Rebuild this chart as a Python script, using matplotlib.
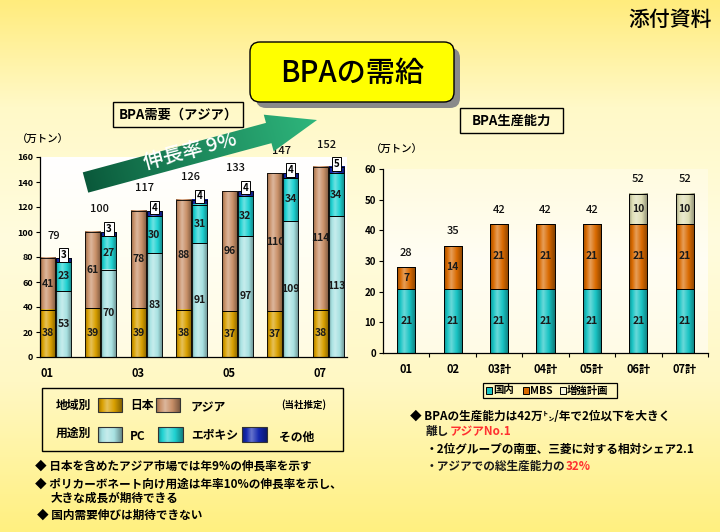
import numpy as np
import matplotlib
matplotlib.use('Agg')
import matplotlib.pyplot as plt
from matplotlib.patches import Rectangle, FancyBboxPatch, Polygon
from matplotlib.colors import LinearSegmentedColormap, to_rgb

plt.rcParams['font.family'] = ['Noto Sans CJK JP', 'DejaVu Sans']

# ---------------- data ----------------
demand_years = ['01', '02', '03', '04', '05', '06', '07']
demand_tick_labels = ['01', '', '03', '', '05', '', '07']
japan = [38, 39, 39, 38, 37, 37, 38]
asia = [41, 61, 78, 88, 96, 110, 114]
pc = [53, 70, 83, 91, 97, 109, 113]
epoxy = [23, 27, 30, 31, 32, 34, 34]
other = [3, 3, 4, 4, 4, 4, 5]

capacity_labels = ['01', '02', '03計', '04計', '05計', '06計', '07計']
domestic = [21, 21, 21, 21, 21, 21, 21]
mbs = [7, 14, 21, 21, 21, 21, 21]
expansion = [0, 0, 0, 0, 0, 10, 10]

# ---------------- colours ----------------
C_JAPAN = '#D9A000'
C_ASIA = '#C99068'
C_PC = '#A8E2E2'
C_EPOXY = '#1FD2D2'
C_OTHER = '#1428B0'
C_DOM = '#19C4C4'
C_MBS = '#D96A00'
C_EXP = '#DEDEB4'

W, H = 720, 532
fig = plt.figure(figsize=(7.2, 5.32), dpi=100)


def axrect(x0, y0, x1, y1):
    return [x0 / W, 1 - y1 / H, (x1 - x0) / W, (y1 - y0) / H]


# ---------------- background ----------------
bg = fig.add_axes([0, 0, 1, 1], zorder=0)
bg.set_xlim(0, W)
bg.set_ylim(H, 0)
bg.axis('off')
stops = [(0.0, (255, 236, 125)), (0.2, (255, 249, 200)), (0.45, (255, 252, 222)),
         (0.72, (255, 248, 196)), (1.0, (255, 240, 128))]
cmap_bg = LinearSegmentedColormap.from_list('bg', [(p, np.array(c) / 255) for p, c in stops])
bg.imshow(np.linspace(0, 1, 256).reshape(-1, 1), cmap=cmap_bg, aspect='auto',
          extent=[0, W, H, 0], origin='upper', interpolation='bilinear')
# plot-area fills
pa1 = LinearSegmentedColormap.from_list('pa1', ['#FFFFFF', '#FFFEF2', '#FFFBE2'])
bg.imshow(np.linspace(0, 1, 64).reshape(-1, 1), cmap=pa1, aspect='auto',
          extent=[40, 347, 357, 157], origin='upper', interpolation='bilinear')
pa2 = LinearSegmentedColormap.from_list('pa2', ['#FFFBE0', '#FFFEF4', '#FFFBE6'])
bg.imshow(np.linspace(0, 1, 64).reshape(-1, 1), cmap=pa2, aspect='auto',
          extent=[383, 708, 353, 169], origin='upper', interpolation='bilinear')
bg.set_xlim(0, W)
bg.set_ylim(H, 0)


def shade_profile(color, n=48):
    c = np.array(to_rgb(color))
    t = np.linspace(0, 1, n)
    s = np.interp(t, [0, 0.38, 1], [-0.28, 0.35, -0.38])
    out = np.empty((1, n, 3))
    for i, si in enumerate(s):
        out[0, i] = c * (1 + si) if si < 0 else c + (1 - c) * si
    return out


def shade(ax, bars, color):
    img = shade_profile(color)
    for r in bars:
        x0, y0, w, h = r.get_x(), r.get_y(), r.get_width(), r.get_height()
        if h <= 0:
            continue
        ax.imshow(img, extent=[x0, x0 + w, y0, y0 + h], aspect='auto',
                  zorder=1.5, interpolation='bilinear', origin='upper')


# ---------------- left chart: demand ----------------
ax1 = fig.add_axes(axrect(40, 157, 347, 357), zorder=1)
ax1.set_facecolor('none')
x = np.arange(len(demand_years))
bw = 0.33
xr = x
xa = x + 0.35
jp = np.array(japan); asv = np.array(asia)
pcv = np.array(pc); epv = np.array(epoxy); otv = np.array(other)
kw = dict(width=bw, align='edge', color='none', edgecolor='black', linewidth=0.6, zorder=2)
b1 = ax1.bar(xr, jp, **kw)
b2 = ax1.bar(xr, asv, bottom=jp, **kw)
b3 = ax1.bar(xa, pcv, **kw)
b4 = ax1.bar(xa, epv, bottom=pcv, **kw)
b5 = ax1.bar(xa, otv, bottom=pcv + epv, **kw)
shade(ax1, b1, C_JAPAN)
shade(ax1, b2, C_ASIA)
shade(ax1, b3, C_PC)
shade(ax1, b4, C_EPOXY)
shade(ax1, b5, C_OTHER)

lab = dict(ha='center', va='center', fontsize=7.5, fontweight='bold', color='#1a1a1a', zorder=4)
tot_kw = dict(ha='center', va='center', fontsize=8, fontweight='medium', color='#111111',
              zorder=4, clip_on=False)
for i in range(len(x)):
    ax1.text(xr[i] + bw / 2, jp[i] / 2, str(jp[i]), **lab)
    ax1.text(xr[i] + bw / 2, jp[i] + asv[i] / 2, str(asv[i]), **lab)
    ax1.text(xa[i] + bw / 2, pcv[i] / 2, str(pcv[i]), **lab)
    ax1.text(xa[i] + bw / 2, pcv[i] + epv[i] / 2, str(epv[i]), **lab)
    tot_app = pcv[i] + epv[i] + otv[i]
    ax1.text(xa[i] + bw / 2, tot_app + 2.5, str(otv[i]), ha='center', va='center',
             fontsize=7, fontweight='bold', zorder=5,
             bbox=dict(boxstyle='square,pad=0.18', fc='white', ec='black', lw=0.7))
    ax1.text(x[i] + 0.3, jp[i] + asv[i] + 18, str(jp[i] + asv[i]), **tot_kw)

ax1.set_xlim(0, 6.75)
ax1.set_ylim(0, 160)
ax1.set_yticks(range(0, 161, 20))
ax1.set_xticks(xr + bw / 2, demand_tick_labels)
ax1.tick_params(axis='x', length=0, pad=7, labelsize=8)
ax1.tick_params(axis='y', length=3, direction='out', pad=2, labelsize=6.5, width=0.8)
for lbl in ax1.get_xticklabels() + ax1.get_yticklabels():
    lbl.set_fontweight('bold')
for s in ['top', 'right']:
    ax1.spines[s].set_visible(False)
for s in ['left', 'bottom']:
    ax1.spines[s].set_linewidth(0.9)

# ---------------- right chart: capacity ----------------
ax2 = fig.add_axes(axrect(383, 169, 708, 353), zorder=1)
ax2.set_facecolor('none')
x2 = np.arange(len(capacity_labels)) + 0.5
bw2 = 0.39
dv = np.array(domestic); mv = np.array(mbs); ev = np.array(expansion)
kw2 = dict(width=bw2, color='none', edgecolor='black', linewidth=0.7, zorder=2)
c1 = ax2.bar(x2, dv, **kw2)
c2 = ax2.bar(x2, mv, bottom=dv, **kw2)
c3 = ax2.bar(x2, ev, bottom=dv + mv, **kw2)
shade(ax2, c1, C_DOM)
shade(ax2, c2, C_MBS)
shade(ax2, c3, C_EXP)
for i in range(len(x2)):
    ax2.text(x2[i], dv[i] / 2, str(dv[i]), **lab)
    ax2.text(x2[i], dv[i] + mv[i] / 2, str(mv[i]), **lab)
    if ev[i] > 0:
        ax2.text(x2[i], dv[i] + mv[i] + ev[i] / 2, str(ev[i]), **lab)
    tot = dv[i] + mv[i] + ev[i]
    ax2.text(x2[i], tot + 4.7, str(tot), **tot_kw)
ax2.set_xlim(0, 7)
ax2.set_ylim(0, 60)
ax2.set_yticks(range(0, 61, 10))
ax2.set_xticks(x2, capacity_labels)
ax2.set_xticks(np.arange(1, 8), minor=True)
ax2.tick_params(axis='x', which='major', length=0, pad=7, labelsize=8)
ax2.tick_params(axis='x', which='minor', length=3, direction='out', width=0.8)
ax2.tick_params(axis='y', length=3, direction='out', pad=2, labelsize=7, width=0.8)
for lbl in ax2.get_xticklabels() + ax2.get_yticklabels():
    lbl.set_fontweight('bold')
for s in ['top', 'right']:
    ax2.spines[s].set_visible(False)
for s in ['left', 'bottom']:
    ax2.spines[s].set_linewidth(0.9)

# ---------------- overlay: titles, arrow, legends, notes ----------------
ov = fig.add_axes([0, 0, 1, 1], zorder=5)
ov.set_facecolor('none')
ov.set_xlim(0, W)
ov.set_ylim(H, 0)
ov.axis('off')

# growth arrow
tail = np.array([85.5, 182.5])
tip = np.array([317.0, 120.0])
L = np.linalg.norm(tip - tail)
u = (tip - tail) / L
nrm = np.array([-u[1], u[0]])
hw, HW, HL = 10.5, 19.0, 50.0
base = tip - HL * u
pts = [tail - hw * nrm, base - hw * nrm, base - HW * nrm, tip,
       base + HW * nrm, base + hw * nrm, tail + hw * nrm]
arrow = Polygon(pts, closed=True, fc='none', ec='none')
ov.add_patch(arrow)
gx0, gx1, gy0, gy1 = 78, 322, 108, 198
GX, GY = np.meshgrid(np.linspace(gx0, gx1, 244), np.linspace(gy0, gy1, 90))
tproj = np.clip(((GX - tail[0]) * u[0] + (GY - tail[1]) * u[1]) / L, 0, 1)
c_dark = np.array([10, 88, 58]) / 255
c_light = np.array([46, 182, 124]) / 255
tt = tproj[..., None] ** 0.9
img = c_dark * (1 - tt) + c_light * tt
im = ov.imshow(img, extent=[gx0, gx1, gy1, gy0], origin='upper', aspect='auto',
               interpolation='bilinear', zorder=3)
im.set_clip_path(arrow)
ov.text(190, 152, '伸長率 9%', rotation=14.8, rotation_mode='anchor', ha='center',
        va='center', fontsize=14.5, color='white', fontweight='medium', zorder=4)

# main title box
ov.add_patch(FancyBboxPatch((256, 48), 204, 60, boxstyle='round,pad=0,rounding_size=10',
                            fc='#8a8a8a', ec='none', zorder=2))
ov.add_patch(FancyBboxPatch((250, 42), 204, 60, boxstyle='round,pad=0,rounding_size=10',
                            fc='#FFFF00', ec='black', lw=1.0, zorder=3))
ov.text(352, 73, 'BPAの需給', ha='center', va='center', fontsize=21,
        fontweight='medium', zorder=4)

ov.text(712, 20, '添付資料', ha='right', va='center', fontsize=15, fontweight='medium')

# chart titles
ov.add_patch(Rectangle((113, 102), 130, 25, fc='none', ec='black', lw=1.0))
ov.text(178, 114.5, 'BPA需要（アジア）', ha='center', va='center', fontsize=9.5,
        fontweight='bold')
ov.add_patch(Rectangle((460, 108), 103, 25, fc='none', ec='black', lw=1.0))
ov.text(511.5, 120.5, 'BPA生産能力', ha='center', va='center', fontsize=9.5,
        fontweight='bold')

ov.text(43, 140, '（万トン）', ha='center', va='center', fontsize=7.5, fontweight='medium')
ov.text(397, 150, '（万トン）', ha='center', va='center', fontsize=7.5, fontweight='medium')

# left legend
ov.add_patch(Rectangle((42, 388), 301, 63, fc='none', ec='black', lw=1.0))
leg_font = dict(va='center', ha='left', fontsize=8.5, fontweight='bold')


def swatch(x0, y0, w, h, color):
    img_s = shade_profile(color)
    ov.imshow(img_s, extent=[x0, x0 + w, y0 + h, y0], origin='upper', aspect='auto',
              interpolation='bilinear', zorder=3)
    ov.add_patch(Rectangle((x0, y0), w, h, fc='none', ec='#333333', lw=0.8, zorder=4))


ov.text(56, 405, '地域別', **leg_font)
swatch(98, 398, 24, 14, C_JAPAN)
ov.text(130, 405, '日本', **leg_font)
swatch(156, 398, 24, 14, C_ASIA)
ov.text(191, 408, 'アジア', **leg_font)
ov.text(281, 405, '(当社推定)', va='center', ha='left', fontsize=6.8, fontweight='bold')
ov.text(56, 433, '用途別', **leg_font)
swatch(98, 427, 24, 15, C_PC)
ov.text(130, 437, 'PC', **leg_font)
swatch(158, 427, 25, 15, C_EPOXY)
ov.text(191, 435, 'エポキシ', **leg_font)
swatch(242, 427, 25, 15, C_OTHER)
ov.text(279, 437, 'その他', **leg_font)

# right legend
ov.add_patch(Rectangle((483, 383), 134, 15, fc='none', ec='black', lw=0.9))
rl = dict(va='center', ha='left', fontsize=7.5, fontweight='bold')
for sx, col, tx, txt in [(486, C_DOM, 493, '国内'), (523, C_MBS, 530, 'MBS'),
                         (560, '#F4F4DC', 567, '増強計画')]:
    ov.add_patch(Rectangle((sx, 387), 5.5, 7, fc=col, ec='black', lw=0.7))
    ov.text(tx, 390.5, txt, **rl)

# notes
renderer = fig.canvas.get_renderer()
note = dict(va='center', ha='left', fontsize=8.4, fontweight='bold')


def multi_text(x0, y0, parts):
    cx = x0
    for s, col in parts:
        t = ov.text(cx, y0, s, color=col, **note)
        cx += t.get_window_extent(renderer=renderer).width


ov.text(35, 466, '◆ 日本を含めたアジア市場では年9%の伸長率を示す', **note)
ov.text(35, 484, '◆ ポリカーボネート向け用途は年率10%の伸長率を示し、', **note)
ov.text(51, 498, '大きな成長が期待できる', **note)
ov.text(37, 515, '◆ 国内需要伸びは期待できない', **note)

RED = '#FF3030'
ov.text(410, 416, '◆ BPAの生産能力は42万㌧/年で2位以下を大きく', **note)
multi_text(426, 432, [('離し', '#1a1a1a'), ('アジアNo.1', RED)])
ov.text(426, 449, '・2位グループの南亜、三菱に対する相対シェア2.1', **note)
multi_text(426, 466, [('・アジアでの総生産能力の', '#1a1a1a'), ('32%', RED)])

fig.savefig('out.png', dpi=100)
